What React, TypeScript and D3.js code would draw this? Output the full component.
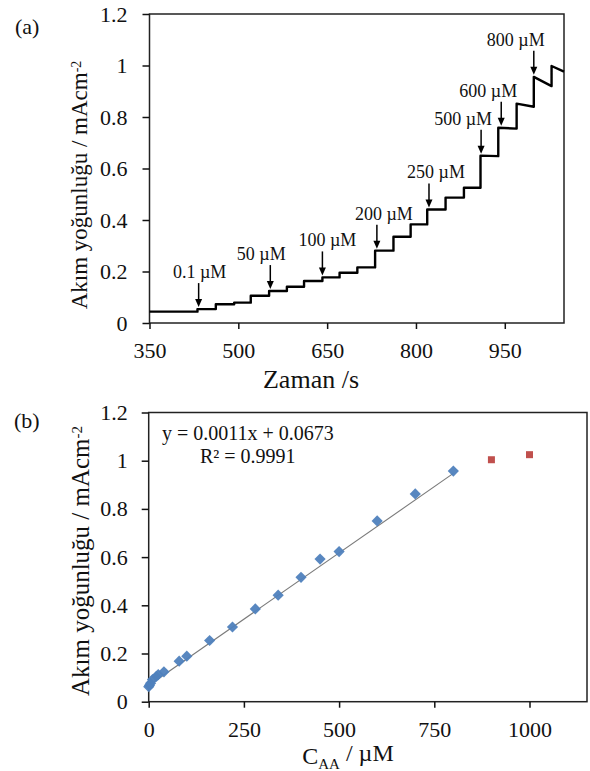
import React, { useRef, useEffect } from 'react';
import * as d3 from 'd3';

// (a) amperometric trace: times (s) where each step begins, plus the level at the start and end of every step
const stepTimes = [350, 431, 462, 493, 521, 552, 582, 611, 642, 671, 701, 731, 762, 791, 819, 850, 881, 909, 939, 970, 999, 1029, 1050];
const levelStart = [0.044, 0.054, 0.073, 0.079, 0.106, 0.124, 0.141, 0.163, 0.177, 0.195, 0.216, 0.281, 0.335, 0.383, 0.441, 0.487, 0.525, 0.650, 0.758, 0.852, 0.956, 0.998];
const levelEnd = [0.044, 0.054, 0.073, 0.079, 0.106, 0.124, 0.141, 0.163, 0.177, 0.195, 0.216, 0.281, 0.335, 0.383, 0.441, 0.487, 0.525, 0.648, 0.755, 0.840, 0.920, 0.976];

// additions marked with arrows
const arrowTimes = [433, 554, 642, 734, 822, 910, 944, 999];
const arrowLabels = ['0.1 µM', '50 µM', '100 µM', '200 µM', '250 µM', '500 µM', '600 µM', '800 µM'];
const arrowLabelShift = [1, -9, 5, 7, 7, -18, -13, -18];

const xTicksA = [350, 500, 650, 800, 950];
const yTicks = [0, 0.2, 0.4, 0.6, 0.8, 1, 1.2];

// (b) calibration
const concLinear = [0.1, 2, 5, 10, 20, 25, 40, 80, 100, 160, 220, 280, 340, 400, 450, 500, 600, 700, 800];
const currentLinear = [0.062, 0.068, 0.077, 0.092, 0.105, 0.112, 0.124, 0.168, 0.189, 0.254, 0.310, 0.385, 0.442, 0.516, 0.592, 0.623, 0.750, 0.862, 0.957];
const concOut = [900, 1000];
const currentOut = [1.004, 1.025];
const slope = 0.0011;
const intercept = 0.0673;
const xTicksB = [0, 250, 500, 750, 1000];

const FONT = '"Liberation Serif", "Times New Roman", serif';

function styleAxis(g) {
    g.attr('font-family', null).attr('font-size', null);
    g.select('.domain').remove();
    g.selectAll('line').attr('stroke', '#111').attr('stroke-width', 1.5);
    g.selectAll('text')
        .attr('fill', '#111')
        .style('font-family', FONT)
        .style('font-size', '22px');
}

function App() {
    const ref = useRef(null);

    useEffect(() => {
        const svg = d3.select(ref.current);
        svg.selectAll('*').remove();

        // ---------------- (a) ----------------
        const a = { left: 149.5, right: 564, top: 14, bottom: 323 };
        const xA = d3.scaleLinear().domain([350, 1050]).range([a.left, a.right]);
        const yA = d3.scaleLinear().domain([0, 1.2]).range([a.bottom, a.top]);

        svg.append('rect')
            .attr('x', a.left).attr('y', a.top)
            .attr('width', a.right - a.left).attr('height', a.bottom - a.top)
            .attr('fill', 'none').attr('stroke', '#222').attr('stroke-width', 1.5);

        svg.append('g')
            .attr('transform', `translate(0,${a.bottom})`)
            .call(d3.axisBottom(xA).tickValues(xTicksA).tickFormat(d => String(d)).tickSize(6).tickPadding(13).tickSizeOuter(0))
            .call(styleAxis);

        svg.append('g')
            .attr('transform', `translate(${a.left},0)`)
            .call(d3.axisLeft(yA).tickValues(yTicks).tickFormat(d => String(d)).tickSize(7).tickPadding(15).tickSizeOuter(0))
            .call(styleAxis);

        const trace = [];
        levelStart.forEach((v, i) => {
            trace.push([stepTimes[i], v]);
            trace.push([stepTimes[i + 1], levelEnd[i]]);
        });
        svg.append('path')
            .datum(trace)
            .attr('fill', 'none')
            .attr('stroke', '#000')
            .attr('stroke-width', 2.4)
            .attr('stroke-linejoin', 'round')
            .attr('d', d3.line().x(d => xA(d[0])).y(d => yA(d[1])));

        const levelAt = t => {
            const i = d3.bisectRight(stepTimes, t) - 1;
            return levelStart[Math.max(0, Math.min(i, levelStart.length - 1))];
        };

        arrowTimes.forEach((t, i) => {
            const x = xA(t);
            const tip = yA(levelAt(t)) - 2;
            const top = tip - 24;
            svg.append('line')
                .attr('x1', x).attr('x2', x).attr('y1', top).attr('y2', tip - 6)
                .attr('stroke', '#000').attr('stroke-width', 1.5);
            svg.append('path')
                .attr('d', `M${x - 3.5},${tip - 8} L${x + 3.5},${tip - 8} L${x},${tip} Z`)
                .attr('fill', '#000');
            svg.append('text')
                .attr('x', x + arrowLabelShift[i]).attr('y', top - 5)
                .attr('text-anchor', 'middle')
                .style('font-family', FONT).style('font-size', '18px')
                .attr('fill', '#111')
                .text(arrowLabels[i]);
        });

        svg.append('text')
            .attr('x', 311).attr('y', 388)
            .attr('text-anchor', 'middle')
            .style('font-family', FONT).style('font-size', '26px')
            .attr('fill', '#111')
            .text('Zaman /s');

        const yTitleA = svg.append('text')
            .attr('transform', 'translate(87,185) rotate(-90)')
            .attr('text-anchor', 'middle')
            .style('font-family', FONT).style('font-size', '23px')
            .attr('fill', '#111');
        yTitleA.append('tspan').text('Akım yoğunluğu / mAcm');
        yTitleA.append('tspan').attr('dy', '-0.45em').style('font-size', '14px').text('-2');

        svg.append('text')
            .attr('x', 15).attr('y', 34)
            .style('font-family', FONT).style('font-size', '22px')
            .attr('fill', '#111')
            .text('(a)');

        // ---------------- (b) ----------------
        const b = { left: 148.7, right: 587, top: 412.5, bottom: 701.7 };
        const xB = d3.scaleLinear().domain([0, 1151]).range([b.left, b.right]);
        const yB = d3.scaleLinear().domain([0, 1.2]).range([b.bottom, b.top]);

        svg.append('rect')
            .attr('x', b.left).attr('y', b.top)
            .attr('width', b.right - b.left).attr('height', b.bottom - b.top)
            .attr('fill', 'none').attr('stroke', '#222').attr('stroke-width', 1.5);

        svg.append('g')
            .attr('transform', `translate(0,${b.bottom})`)
            .call(d3.axisBottom(xB).tickValues(xTicksB).tickFormat(d => String(d)).tickSize(6).tickPadding(14).tickSizeOuter(0))
            .call(styleAxis);

        svg.append('g')
            .attr('transform', `translate(${b.left},0)`)
            .call(d3.axisLeft(yB).tickValues(yTicks).tickFormat(d => String(d)).tickSize(7).tickPadding(14).tickSizeOuter(0))
            .call(styleAxis);

        svg.append('line')
            .attr('x1', xB(0)).attr('y1', yB(intercept))
            .attr('x2', xB(800)).attr('y2', yB(slope * 800 + intercept))
            .attr('stroke', '#7a7a7a').attr('stroke-width', 1.1);

        svg.append('g')
            .selectAll('path')
            .data(concLinear.map((c, i) => [c, currentLinear[i]]))
            .enter().append('path')
            .attr('d', d => {
                const x = xB(d[0]), y = yB(d[1]), r = 5.6;
                return `M${x},${y - r} L${x + r},${y} L${x},${y + r} L${x - r},${y} Z`;
            })
            .attr('fill', '#4F81BD')
            .attr('fill-opacity', 0.95);

        svg.append('g')
            .selectAll('rect')
            .data(concOut.map((c, i) => [c, currentOut[i]]))
            .enter().append('rect')
            .attr('x', d => xB(d[0]) - 3.5)
            .attr('y', d => yB(d[1]) - 3.5)
            .attr('width', 7).attr('height', 7)
            .attr('fill', '#C0504D');

        svg.append('text')
            .attr('x', 162).attr('y', 440)
            .style('font-family', FONT).style('font-size', '20px')
            .attr('fill', '#111')
            .text('y = 0.0011x + 0.0673');
        svg.append('text')
            .attr('x', 200).attr('y', 463)
            .style('font-family', FONT).style('font-size', '20px')
            .attr('fill', '#111')
            .text('R² = 0.9991');

        const xTitleB = svg.append('text')
            .attr('x', 348).attr('y', 764)
            .attr('text-anchor', 'middle')
            .style('font-family', FONT).style('font-size', '24px')
            .attr('fill', '#111');
        xTitleB.append('tspan').text('C');
        xTitleB.append('tspan').attr('dy', '0.3em').style('font-size', '15px').text('AA');
        xTitleB.append('tspan').attr('dy', '-0.3em').text(' / µM');

        const yTitleB = svg.append('text')
            .attr('transform', 'translate(89,561) rotate(-90)')
            .attr('text-anchor', 'middle')
            .style('font-family', FONT).style('font-size', '25px')
            .attr('fill', '#111');
        yTitleB.append('tspan').text('Akım yoğunluğu / mAcm');
        yTitleB.append('tspan').attr('dy', '-0.45em').style('font-size', '15px').text('-2');

        svg.append('text')
            .attr('x', 14).attr('y', 428)
            .style('font-family', FONT).style('font-size', '22px')
            .attr('fill', '#111')
            .text('(b)');
    }, []);

    return (
        <svg ref={ref} width={590} height={771}
            style={{ position: 'absolute', left: 0, top: 0, background: '#fff' }} />
    );
}

export default App;
